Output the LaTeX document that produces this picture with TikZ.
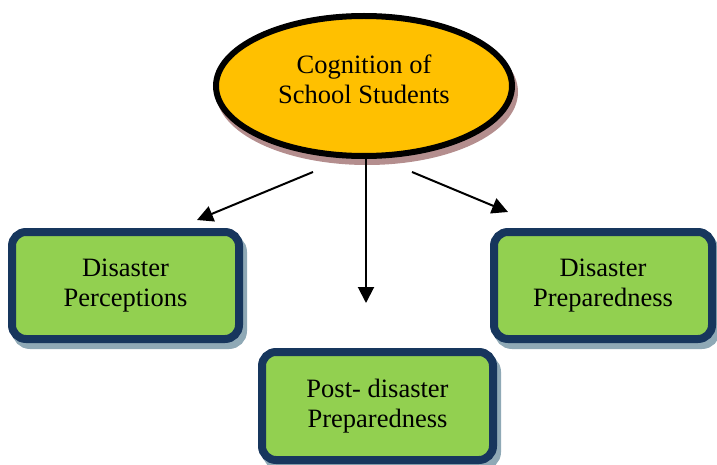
\documentclass[tikz,border=0pt]{standalone}
\usepackage{fontspec}
\setmainfont{Liberation Serif}
\usetikzlibrary{shapes.geometric,arrows.meta,shadows}
\definecolor{goldfill}{HTML}{FFC000}
\definecolor{leaf}{HTML}{92D050}
\definecolor{navy}{HTML}{17365D}
\definecolor{rosyshade}{HTML}{B48E8E}
\definecolor{slateshade}{HTML}{8FA9B6}
\tikzset{
  label font/.style={font=\fontsize{26.5}{30}\selectfont, align=center},
  topic/.style={ellipse, draw=black, line width=6pt, fill=goldfill,
    minimum width=296pt, minimum height=140pt, inner sep=0pt,
    drop shadow={shadow xshift=3pt, shadow yshift=-6pt,
      fill=rosyshade, draw=rosyshade, line width=6pt, opacity=1}},
  aspect/.style={rectangle, rounded corners=14pt, draw=navy, line width=8pt,
    fill=leaf, minimum height=107pt, inner sep=0pt, label font,
    drop shadow={shadow xshift=4pt, shadow yshift=-6pt,
      fill=slateshade, draw=slateshade, line width=8pt, opacity=1}},
  link/.style={line width=2pt, -{Triangle[length=16pt,width=16pt]}}
}
\begin{document}
\begin{tikzpicture}[x=1pt,y=-1pt]
  \useasboundingbox (0,0) rectangle (717,465);

  % central concept
  \node[topic] (cog) at (364,86) {};
  \node[label font] (cogtext) at (364,79) {Cognition of\\School Students};

  % the three aspects
  \node[aspect, minimum width=227pt] (perc) at (125.5,285.5) {Disaster\\Perceptions};
  \node[aspect, minimum width=218pt] (prep) at (603,285.5) {Disaster\\Preparedness};
  \node[aspect, minimum width=231pt, minimum height=108pt] (post) at (377.5,406) {Post- disaster\\Preparedness};

  % arrow ends
  \coordinate (lstart) at (313,172);
  \coordinate (lend) at (197,220);
  \coordinate (mstart) at (366,158);
  \coordinate (mend) at (366,303);
  \coordinate (rstart) at (412,172);
  \coordinate (rend) at (508,212);

  \draw[link] (lstart) -- (lend);
  \draw[link] (mstart) -- (mend);
  \draw[link] (rstart) -- (rend);
\end{tikzpicture}
\end{document}
